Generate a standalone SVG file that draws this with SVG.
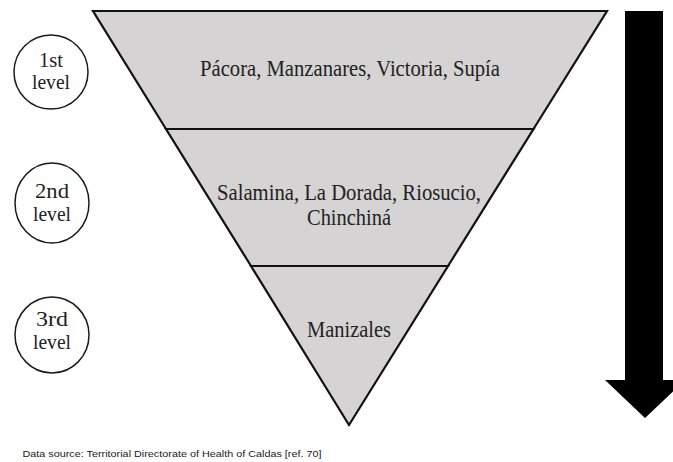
<svg xmlns="http://www.w3.org/2000/svg" width="673" height="462" viewBox="0 0 673 462">
<style>
.lvl{fill:none;stroke:#1a1a1a;stroke-width:1.5}
.lt{font-family:"Liberation Serif","Times New Roman",serif;font-size:21px;fill:#222;text-anchor:middle}
.band{fill:#d5d3d3;stroke:#111;stroke-width:2.2;stroke-linejoin:miter}
.bt{font-family:"Liberation Serif","Times New Roman",serif;font-size:23px;fill:#222;text-anchor:middle}
.src{font-family:"Liberation Sans",Arial,sans-serif;font-size:9.5px;fill:#222}
</style>
<rect width="673" height="462" fill="#ffffff"/>
<g id="level1"><ellipse class="lvl" cx="51" cy="72" rx="37" ry="37"/><text class="lt" x="51" y="67" textLength="24" lengthAdjust="spacingAndGlyphs">1st</text><text class="lt" x="51" y="89" textLength="38" lengthAdjust="spacingAndGlyphs">level</text></g>
<g id="level2"><ellipse class="lvl" cx="52" cy="203" rx="37" ry="40"/><text class="lt" x="52" y="198" textLength="34" lengthAdjust="spacingAndGlyphs">2nd</text><text class="lt" x="52" y="221" textLength="38" lengthAdjust="spacingAndGlyphs">level</text></g>
<g id="level3"><ellipse class="lvl" cx="52" cy="335" rx="37" ry="38"/><text class="lt" x="52" y="326" textLength="32" lengthAdjust="spacingAndGlyphs">3rd</text><text class="lt" x="52" y="349" textLength="38" lengthAdjust="spacingAndGlyphs">level</text></g>
<g id="tier1"><polygon class="band" points="93,11 607,11 533.5,129 166,129"/><text class="bt" x="350" y="76" textLength="300" lengthAdjust="spacingAndGlyphs">Pácora, Manzanares, Victoria, Supía</text></g>
<g id="tier2"><polygon class="band" points="166,129 533.5,129 448,266 251,266"/><text class="bt" x="349" y="200" textLength="264" lengthAdjust="spacingAndGlyphs">Salamina, La Dorada, Riosucio,</text><text class="bt" x="349" y="225" textLength="84" lengthAdjust="spacingAndGlyphs">Chinchiná</text></g>
<g id="tier3"><polygon class="band" points="251,266 448,266 349,425"/><text class="bt" x="349" y="337" textLength="84" lengthAdjust="spacingAndGlyphs">Manizales</text></g>
<g id="connectors"><polygon fill="#000" points="625,11 663,11 663,380 685,380 645,418 605,380 625,380"/></g>
<text class="src" x="22.5" y="457" textLength="299" lengthAdjust="spacingAndGlyphs">Data source: Territorial Directorate of Health of Caldas [ref. 70]</text>
</svg>
